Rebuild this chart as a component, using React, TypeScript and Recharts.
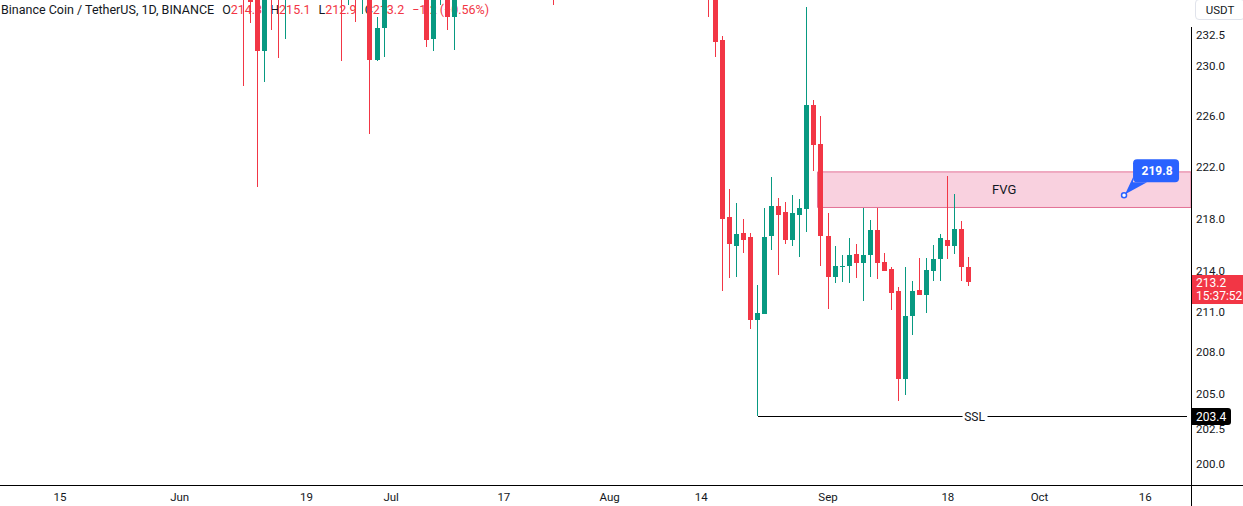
import { ComposedChart, Bar, XAxis, YAxis, ReferenceArea, ReferenceLine, ReferenceDot } from 'recharts';

const RED = '#F23645';
const GREEN = '#089981';
const INK = '#131722';
const BLUE = '#2962FF';

// day index 0 = May 15
const firstDay = -8;
const lastDay = 160;

const xTicks = [0, 17, 35, 47, 63, 78, 91, 109, 126, 139, 154];
const xTickLabels = ['15', 'Jun', '19', 'Jul', '17', 'Aug', '14', 'Sep', '18', 'Oct', '16'];

const yTicks = [200, 202.5, 205, 208, 211, 214, 218, 222, 226, 230, 232.5];

const candleDays = [
  26, 27, 28, 29, 30, 31, 32, 40, 41, 42, 43, 44, 45, 46, 52, 53, 54, 55, 56, 70,
  92, 93, 94, 95, 96, 97, 98, 99, 100, 101, 102, 103, 104, 105, 106, 107, 108, 109, 110,
  111, 112, 113, 114, 115, 116, 117, 118, 119, 120, 121, 122, 123, 124, 125, 126, 127, 128, 129,
];
const opens = [
  247.0, 237.0, 236.0, 231.2, 240.0, 237.5, 236.0, 240.0, 237.0, 240.0, 238.0, 240.5, 230.5, 233.1, 239.0, 232.2, 237.0, 238.0, 234.0, 242.0,
  240.0, 237.0, 232.1, 218.1, 215.9, 216.9, 216.6, 210.4, 210.8, 216.7, 219.0, 218.5, 216.4, 218.3, 218.7, 226.9, 223.8, 216.7, 213.6,
  214.3, 214.4, 215.3, 214.6, 215.2, 217.1, 214.7, 214.2, 212.5, 206.1, 210.7, 212.6, 212.2, 214.0, 214.9, 216.4, 215.9, 217.2, 214.3,
];
const highs = [
  249.0, 239.0, 236.6, 239.0, 241.0, 239.0, 240.0, 242.0, 241.0, 241.0, 242.0, 241.0, 234.0, 238.0, 240.0, 239.0, 240.0, 239.0, 239.0, 243.0,
  241.0, 238.0, 232.4, 220.3, 219.2, 218.0, 216.9, 213.0, 218.8, 221.2, 219.6, 219.3, 219.8, 219.5, 234.8, 227.3, 226.0, 218.4, 215.9,
  215.2, 216.5, 216.1, 218.8, 217.9, 218.8, 215.4, 214.3, 212.8, 214.3, 213.3, 215.0, 215.0, 216.0, 216.8, 221.3, 219.9, 217.8, 215.1,
];
const lows = [
  228.4, 233.5, 220.4, 228.7, 232.9, 230.6, 232.2, 230.4, 235.0, 233.6, 234.2, 224.6, 230.4, 230.7, 231.5, 231.2, 235.0, 232.9, 231.3, 235.0,
  234.0, 230.7, 212.5, 213.5, 213.6, 215.4, 209.7, 203.4, 210.8, 215.6, 213.7, 216.1, 215.9, 215.1, 217.0, 221.7, 214.4, 211.2, 213.1,
  213.2, 213.1, 213.5, 211.8, 213.6, 213.4, 214.0, 211.1, 204.5, 204.9, 209.3, 212.2, 210.9, 213.3, 213.3, 214.9, 215.3, 213.3, 212.9,
];
const closes = [
  237.0, 235.2, 231.2, 238.0, 237.5, 236.0, 239.0, 237.0, 240.0, 238.0, 240.5, 230.5, 233.1, 236.5, 232.1, 238.0, 239.0, 234.0, 238.0, 240.0,
  236.0, 231.9, 218.0, 216.1, 216.8, 216.4, 210.4, 210.9, 216.6, 219.0, 218.3, 216.4, 218.4, 218.8, 226.9, 223.7, 216.7, 213.6, 214.4,
  214.4, 215.2, 214.6, 215.2, 217.1, 214.6, 214.0, 212.4, 206.1, 210.7, 212.5, 212.2, 214.1, 214.9, 216.5, 215.9, 217.2, 214.3, 213.2,
];

const fvgStartDay = 108;
const fvgLow = 218.85;
const fvgHigh = 221.6;
const sslDay = 99;
const sslPrice = 203.4;
const noteDay = 151;
const notePrice = 219.8;
const lastPrice = 213.2;

const rows: any[] = [];
for (let d = firstDay; d <= lastDay; d++) {
  const i = candleDays.indexOf(d);
  if (i < 0) rows.push({ d });
  else rows.push({ d, open: opens[i], high: highs[i], low: lows[i], close: closes[i], range: [lows[i], highs[i]] });
}

function Candle(props: any) {
  const { x, y, width, height, payload } = props;
  if (!payload || payload.open == null || !isFinite(y) || !isFinite(height)) return null;
  const { open, close, high, low } = payload;
  const lh = Math.log(high);
  const ll = Math.log(low);
  const py = (v: number) => (lh === ll ? y : y + (height * (lh - Math.log(v))) / (lh - ll));
  const color = close < open ? RED : GREEN;
  const bx = Math.round(x);
  const top = Math.round(py(Math.max(open, close)));
  const bot = Math.round(py(Math.min(open, close)));
  return (
    <g>
      <line x1={bx + 2.5} x2={bx + 2.5} y1={Math.round(y)} y2={Math.round(y + height)} stroke={color} strokeWidth={1} />
      <rect x={bx} y={top} width={width} height={Math.max(1, bot - top)} fill={color} />
    </g>
  );
}

function LastPriceTag(props: any) {
  const vb = props.viewBox;
  if (!vb) return null;
  const ax = vb.x + vb.width + 1;
  const py = vb.y;
  return (
    <g>
      <rect x={ax} y={py - 7} width={52} height={29} fill={RED} />
      <text x={ax + 4} y={py + 0.5} dy="0.355em" fontSize={12} fill="#fff">{lastPrice.toFixed(1)}</text>
      <text x={ax + 4} y={py + 14} dy="0.355em" fontSize={12} fill="#fff">15:37:52</text>
    </g>
  );
}

function SslTag(props: any) {
  const vb = props.viewBox;
  if (!vb) return null;
  const ax = vb.x + vb.width + 1;
  const py = vb.y;
  return (
    <g>
      <path d={`M${ax} ${py - 8} h36 a3 3 0 0 1 3 3 v11 a3 3 0 0 1 -3 3 h-36 z`} fill="#000" />
      <text x={ax + 4} y={py + 0.5} dy="0.355em" fontSize={12} fill="#fff">{sslPrice.toFixed(1)}</text>
    </g>
  );
}

function SslLabel(props: any) {
  const vb = props.viewBox;
  if (!vb) return null;
  const cx = vb.x + vb.width / 2 + 2;
  return (
    <g>
      <rect x={cx - 12} y={vb.y - 8} width={25} height={16} fill="#fff" />
      <text x={cx} y={vb.y + 0.5} dy="0.355em" textAnchor="middle" fontSize={12} fill={INK}>SSL</text>
    </g>
  );
}

function Callout(props: any) {
  const { cx, cy } = props;
  if (cx == null || cy == null) return null;
  return (
    <g>
      <polygon points={`${cx + 1},${cy - 1} ${cx + 9},${cy - 18} ${cx + 9},${cy - 13} ${cx + 23},${cy - 13}`} fill={BLUE} />
      <rect x={cx + 9} y={cy - 36} width={46} height={23} rx={4} fill={BLUE} />
      <text x={cx + 33} y={cy - 24} dy="0.355em" textAnchor="middle" fontSize={12} fontWeight="bold" fill="#fff">
        {notePrice.toFixed(1)}
      </text>
      <circle cx={cx} cy={cy} r={2.5} fill="#fff" stroke={BLUE} strokeWidth={1.5} />
    </g>
  );
}

export default function App() {
  return (
    <div style={{ position: 'absolute', left: 0, top: 0, width: 1243, height: 506, fontFamily: 'Roboto, sans-serif', background: '#fff' }}>
      <div style={{ position: 'absolute', left: 1, top: 2, fontSize: 12.5, color: INK, display: 'flex', gap: 8, whiteSpace: 'nowrap', zIndex: 0 }}>
        <span>Binance Coin / TetherUS, 1D, BINANCE</span>
        <span>O<span style={{ color: RED }}>214.3</span></span>
        <span>H<span style={{ color: RED }}>215.1</span></span>
        <span>L<span style={{ color: RED }}>212.9</span></span>
        <span>C<span style={{ color: RED }}>213.2</span></span>
        <span style={{ color: RED }}>−1.2 (−0.56%)</span>
      </div>
      <div style={{ position: 'absolute', left: 1195, top: -1, width: 50, height: 21, border: '1px solid #E0E3EB', borderRadius: 4, boxSizing: 'border-box', fontSize: 11.5, color: INK, textAlign: 'center', lineHeight: '21px' }}>
        USDT
      </div>
      <div style={{ position: 'absolute', left: 1191, top: 27, width: 1, height: 479, background: '#000', zIndex: 2 }} />
      <div style={{ position: 'absolute', left: 0, top: 485, width: 1243, height: 1, background: '#000', zIndex: 2 }} />
      <div style={{ position: 'absolute', left: 0, top: 0, zIndex: 1 }}>
        <ComposedChart width={1243} height={506} data={rows} margin={{ top: 0, right: 0, bottom: 0, left: 0 }}>
          <XAxis
            dataKey="d"
            type="category"
            ticks={xTicks}
            interval={0}
            tickFormatter={(v: number) => xTickLabels[xTicks.indexOf(v)] ?? ''}
            height={21}
            axisLine={false}
            tickLine={false}
            tick={{ fontSize: 11.5, fill: INK }}
          />
          <YAxis
            orientation="right"
            scale="log"
            type="number"
            domain={[198.54, 235.38]}
            allowDataOverflow
            ticks={yTicks}
            interval={0}
            tickFormatter={(v: number) => v.toFixed(1)}
            width={52}
            axisLine={false}
            tickLine={false}
            tickSize={3}
            tickMargin={2}
            tick={{ fontSize: 11.5, fill: INK }}
          />
          <ReferenceArea
            x1={fvgStartDay}
            x2={lastDay}
            y1={fvgLow}
            y2={fvgHigh}
            fill="#F9D1DF"
            fillOpacity={1}
            stroke="#E37196"
            strokeWidth={1}
            label={{ value: 'FVG', position: 'center', fill: INK, fontSize: 13 }}
          />
          <Bar dataKey="range" barSize={5} shape={<Candle />} isAnimationActive={false} />
          <ReferenceLine
            segment={[{ x: sslDay, y: sslPrice }, { x: lastDay, y: sslPrice }]}
            stroke="#000"
            strokeWidth={1}
            shapeRendering="crispEdges"
            label={(p: any) => <SslLabel {...p} />}
          />
          <ReferenceDot x={noteDay} y={notePrice} r={3} shape={(p: any) => <Callout {...p} />} />
          <ReferenceLine y={lastPrice} stroke="none" ifOverflow="visible" label={(p: any) => <LastPriceTag {...p} />} />
          <ReferenceLine y={sslPrice} stroke="none" ifOverflow="visible" label={(p: any) => <SslTag {...p} />} />
        </ComposedChart>
      </div>
    </div>
  );
}
